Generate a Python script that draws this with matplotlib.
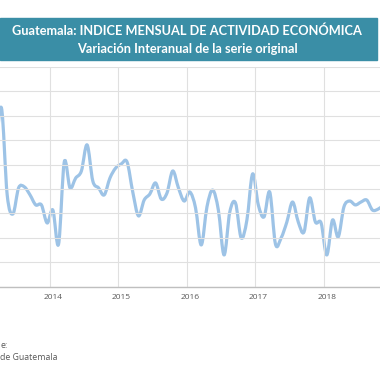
import matplotlib
matplotlib.use("Agg")
import matplotlib.pyplot as plt
from matplotlib.path import Path
from matplotlib.patches import PathPatch
import numpy as np

# Monthly year-on-year variation (%), Mar 2013 .. Nov 2018
months = [
    "2013-03", "2013-04", "2013-05", "2013-06", "2013-07", "2013-08", "2013-09",
    "2013-10", "2013-11", "2013-12",
    "2014-01", "2014-02", "2014-03", "2014-04", "2014-05", "2014-06", "2014-07",
    "2014-08", "2014-09", "2014-10", "2014-11", "2014-12",
    "2015-01", "2015-02", "2015-03", "2015-04", "2015-05", "2015-06", "2015-07",
    "2015-08", "2015-09", "2015-10", "2015-11", "2015-12",
    "2016-01", "2016-02", "2016-03", "2016-04", "2016-05", "2016-06", "2016-07",
    "2016-08", "2016-09", "2016-10", "2016-11", "2016-12",
    "2017-01", "2017-02", "2017-03", "2017-04", "2017-05", "2017-06", "2017-07",
    "2017-08", "2017-09", "2017-10", "2017-11", "2017-12",
    "2018-01", "2018-02", "2018-03", "2018-04", "2018-05", "2018-06", "2018-07",
    "2018-08", "2018-09", "2018-10", "2018-11",
]
variacion = [
    5.60, 7.32, 3.76, 2.98, 4.05, 4.09, 3.76, 3.35, 3.35, 2.61,
    3.14, 1.74, 5.11, 4.05, 4.45, 4.74, 5.81, 4.33, 4.05, 3.76, 4.45, 4.86,
    5.03, 5.11, 3.88, 2.90, 3.55, 3.80, 4.25, 3.59, 3.84, 4.74, 4.05, 3.51,
    3.88, 3.23, 1.71, 3.27, 3.96, 3.14, 1.30, 3.06, 3.43, 2.00, 2.73, 4.62,
    3.35, 2.86, 3.88, 1.75, 2.00, 2.65, 3.47, 2.65, 2.24, 3.64, 2.65, 2.61,
    1.30, 2.73, 2.04, 3.27, 3.51, 3.35, 3.47, 3.55, 3.14, 3.18, 3.35,
]
year_labels = ["2014", "2015", "2016", "2017", "2018"]

title_1 = "Guatemala: INDICE MENSUAL DE ACTIVIDAD ECONÓMICA"
title_2 = "Variación Interanual de la serie original"
# only the visible part of the (cropped) source note
source_1 = "e:"
source_2 = "de Guatemala"

BANNER = "#3a8ea6"
LINE = "#9dc3e6"
GRID = "#e0e0e0"

# month index relative to Jan 2014
x = np.array([(int(m[:4]) - 2014) * 12 + int(m[5:]) - 1 for m in months], dtype=float)
y = np.array(variacion)


def smooth_path(xs, ys, tension=1 / 6):
    # Catmull-Rom style bezier segments (like a spreadsheet "smoothed line")
    verts = [(xs[0], ys[0])]
    codes = [Path.MOVETO]
    n = len(xs)
    for i in range(n - 1):
        p0 = (xs[max(i - 1, 0)], ys[max(i - 1, 0)])
        p1 = (xs[i], ys[i])
        p2 = (xs[i + 1], ys[i + 1])
        p3 = (xs[min(i + 2, n - 1)], ys[min(i + 2, n - 1)])
        c1 = (p1[0] + (p2[0] - p0[0]) * tension, p1[1] + (p2[1] - p0[1]) * tension)
        c2 = (p2[0] - (p3[0] - p1[0]) * tension, p2[1] - (p3[1] - p1[1]) * tension)
        verts += [c1, c2, p2]
        codes += [Path.CURVE4] * 3
    return Path(verts, codes)


W, H = 380, 380
fig = plt.figure(figsize=(3.8, 3.8), dpi=100)
fig.patch.set_facecolor("white")

# plot area runs past the picture on both sides (cropped screenshot)
ax_top, ax_bottom = 67 / H, 286.7 / H
ax = fig.add_axes([0.0, 1 - ax_bottom, 1.0, ax_bottom - ax_top])

ax.set_xlim(-9.26, 57.32)
ax.set_ylim(0, 9)
ax.set_yticks(np.arange(0, 10, 1))
ax.set_xticks([-0.5, 11.5, 23.5, 35.5, 47.5])
ax.grid(True, color=GRID, linewidth=0.8)
ax.tick_params(axis="both", length=0, labelleft=False, labelbottom=False)
for s in ["left", "right", "top"]:
    ax.spines[s].set_visible(False)
ax.spines["bottom"].set_color("#bfbfbf")
ax.spines["bottom"].set_linewidth(1.0)

for i, lab in enumerate(year_labels):
    ax.text(i * 12, -0.43, lab, ha="center", va="center", fontsize=6,
            color="#595959", family="Open Sans")

ax.add_patch(PathPatch(smooth_path(x, y), facecolor="none", edgecolor=LINE,
                       linewidth=2.3, capstyle="round", joinstyle="round",
                       clip_on=True))

# title banner
fig.patches.append(plt.Rectangle((0, 1 - 59.5 / H), 377 / W, 41.5 / H,
                                 transform=fig.transFigure, color=BANNER,
                                 zorder=0))
fig.text(187 / W, 1 - 31 / H, title_1, ha="center", va="center", color="white",
         fontsize=9.2, fontweight="bold", family="Lato")
fig.text(187 / W, 1 - 49 / H, title_2, ha="center", va="center", color="white",
         fontsize=9.2, fontweight="bold", family="Lato")

# source note
fig.text(0.5 / W, 1 - 345 / H, source_1, ha="left", va="center",
         fontsize=6.3, color="#595959", family="Open Sans")
fig.text(0.5 / W, 1 - 358 / H, source_2, ha="left", va="center",
         fontsize=6.3, color="#595959", family="Open Sans")

fig.savefig("out.png", dpi=100, facecolor="white")
